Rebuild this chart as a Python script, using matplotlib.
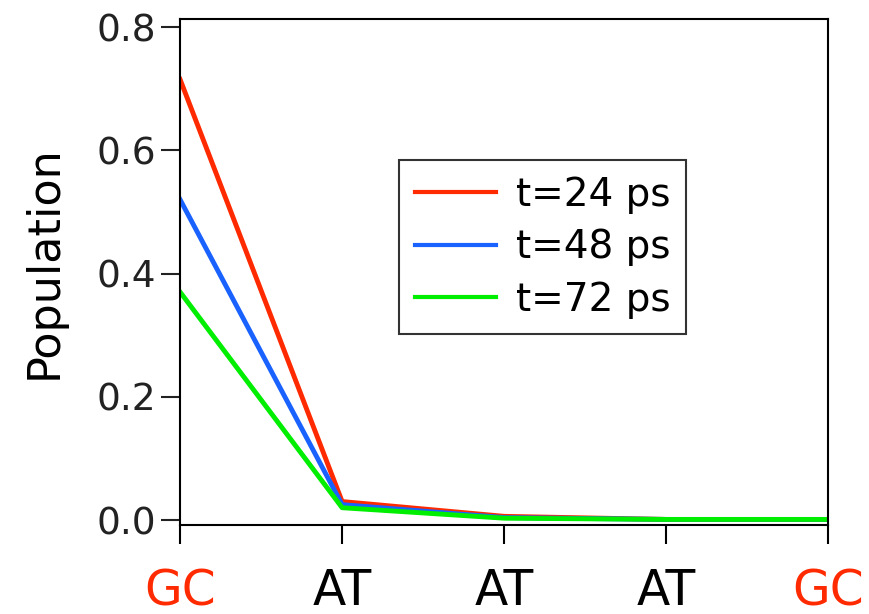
import numpy as np
import matplotlib.pyplot as plt

# positions along the chain
sites = ['GC', 'AT', 'AT', 'AT', 'GC']
site_colors = ['#ff2a00', 'black', 'black', 'black', '#ff2a00']
pop_24 = [0.715, 0.030, 0.006, 0.001, 0.001]
pop_48 = [0.520, 0.025, 0.004, 0.001, 0.001]
pop_72 = [0.370, 0.020, 0.003, 0.001, 0.001]
labels = ['t=24 ps', 't=48 ps', 't=72 ps']
colors = ['#ff2a00', '#1a62ff', '#00ee00']

fig = plt.figure(figsize=(8.7, 6.14), dpi=100)
ax = fig.add_axes([0.207, 0.145, 0.745, 0.824])

x = np.arange(len(sites))
for y, lab, c in zip([pop_24, pop_48, pop_72], labels, colors):
    ax.plot(x, y, color=c, lw=3.5, label=lab)

ax.set_xlim(0, 4)
ax.set_ylim(-0.008, 0.813)
ax.set_yticks([0.0, 0.2, 0.4, 0.6, 0.8])
ax.set_yticklabels(['0.0', '0.2', '0.4', '0.6', '0.8'])
ax.set_xticks(x)
ax.set_xticklabels(sites)
for t, c in zip(ax.get_xticklabels(), site_colors):
    t.set_color(c)

ax.tick_params(axis='y', direction='out', length=13.5, width=1.5, labelsize=27, pad=4, colors='#222222')
ax.tick_params(axis='x', direction='out', length=13.5, width=1.5, labelsize=35, pad=17)
for s in ax.spines.values():
    s.set_linewidth(1.5)

ax.set_ylabel('Population', fontsize=32, labelpad=22)
ax.yaxis.label.set_y(0.52)

leg = ax.legend(loc='upper left', bbox_to_anchor=(0.338, 0.721), borderaxespad=0,
                fontsize=28, frameon=True, fancybox=False, handlelength=2.1,
                handletextpad=0.5, borderpad=0.4, labelspacing=0.37)
leg.get_frame().set_edgecolor('black')
leg.get_frame().set_linewidth(1.5)
for h in leg.get_lines():
    h.set_linewidth(3)

fig.savefig('out.png', dpi=100)
